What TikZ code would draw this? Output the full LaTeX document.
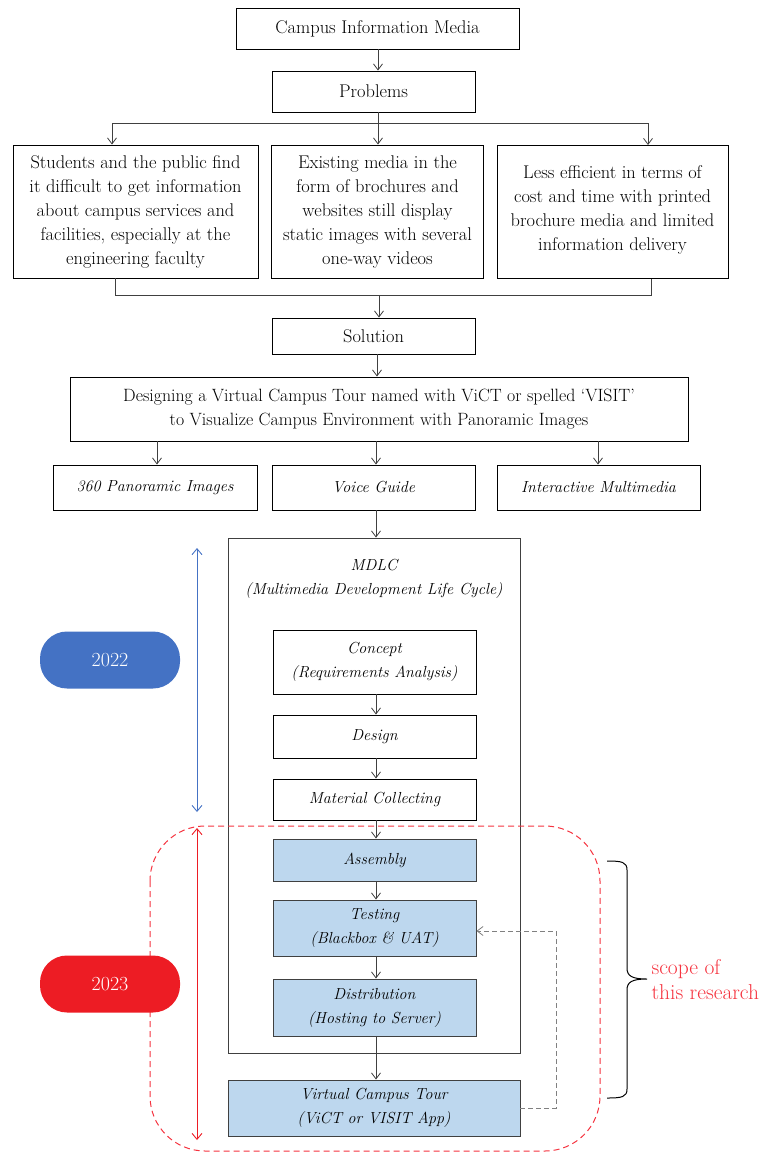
\documentclass[tikz,border=0pt]{standalone}
\usetikzlibrary{arrows.meta,calc}
\definecolor{pillblue}{HTML}{4472C4}
\definecolor{pillred}{HTML}{ED1C24}
\definecolor{boxblue}{HTML}{BDD7EE}
\definecolor{scopered}{HTML}{F5333F}
\definecolor{lineg}{HTML}{404040}
\begin{document}
\begin{tikzpicture}[x=1pt,y=-1pt,
  txt/.style={font=\fontsize{18.4}{24}\selectfont},
  box/.style={draw=black, line width=0.9pt, align=center, inner sep=2pt, txt},
  itbox/.style={box, font=\fontsize{16}{24}\selectfont\itshape},
  bluebox/.style={itbox, fill=boxblue, draw=lineg},
  arr/.style={draw=lineg, line width=0.8pt, -{Straight Barb[length=6pt,width=9pt]}},
  ln/.style={draw=lineg, line width=0.8pt},
  pill/.style={rounded corners=27pt, minimum width=140pt, minimum height=57pt, text=white, font=\fontsize{20}{22}\selectfont},
  dbl/.style={line width=0.9pt, {Straight Barb[length=6pt,width=10pt]}-{Straight Barb[length=6pt,width=10pt]}}
]
\useasboundingbox (0,0) rectangle (766,1154);

% top
\node[box, minimum width=283pt, minimum height=41pt] (cim) at (377.5,28.5) {Campus Information Media};
\node[box, minimum width=203pt, minimum height=41pt] (prob) at (373.5,91.5) {Problems};

\node[box, minimum width=245pt, minimum height=133pt] (p1) at (135.5,211.5) {Students and the public find\\it difficult to get information\\about campus services and\\facilities, especially at the\\engineering faculty};
\node[box, minimum width=212pt, minimum height=133pt] (p2) at (377.5,211.5) {Existing media in the\\form of brochures and\\websites still display\\static images with several\\one-way videos};
\node[box, minimum width=231pt, minimum height=133pt, anchor=north] (p3) at (612.5,145) {\\[-16pt]Less efficient in terms of\\cost and time with printed\\brochure media and limited\\information delivery};

\draw[arr] (cim.south -| 378,0) -- (prob.north -| 378,0);
\coordinate (bl) at (112,123);
\coordinate (br) at (648,123);
\draw[ln] (bl) -- (br);
\draw[arr] (bl) -- (bl |- p1.north);
\draw[arr] (br) -- (br |- p3.north);
\draw[arr] (prob.south -| 378,0) -- (p2.north -| 378,0);

\node[box, minimum width=203pt, minimum height=36pt] (sol) at (373.5,336) {Solution};
\coordinate (ml) at (115,295);
\coordinate (mr) at (651,295);
\coordinate (mc) at (379,295);
\draw[ln] (ml |- p1.south) -- (ml) -- (mr) -- (mr |- p3.south);
\draw[arr] (mc) -- (mc |- sol.north);

\node[box, minimum width=618pt, minimum height=64pt, font=\fontsize{17.8}{24}\selectfont] (des) at (379,409) {Designing a Virtual Campus Tour named with ViCT or spelled `VISIT'\\to Visualize Campus Environment with Panoramic Images};
\draw[arr] (sol.south -| 377,0) -- (des.north -| 377,0);

\node[itbox, minimum width=204pt, minimum height=45pt] (f1) at (155,487.5) {360 Panoramic Images};
\node[itbox, minimum width=203pt, minimum height=45pt] (f2) at (373.5,487.5) {Voice Guide};
\node[itbox, minimum width=203pt, minimum height=45pt] (f3) at (598.5,487.5) {Interactive Multimedia};
\draw[arr] (des.south -| 157,0) -- (f1.north -| 157,0);
\draw[arr] (des.south -| 376,0) -- (f2.north -| 376,0);
\draw[arr] (des.south -| 598,0) -- (f3.north -| 598,0);

% MDLC
\node[draw=lineg, line width=0.9pt, minimum width=292pt, minimum height=515pt] (mdlc) at (374,795.5) {};
\node[font=\fontsize{16}{24}\selectfont\itshape, align=center] (mdlct) at (374,579) {MDLC\\(Multimedia Development Life Cycle)};
\draw[arr] (f2.south -| 376,0) -- (mdlc.north -| 376,0);

\node[itbox, minimum width=203pt, minimum height=64pt] (con) at (374.5,662) {Concept\\(Requirements Analysis)};
\node[itbox, minimum width=203pt, minimum height=43pt] (dsg) at (374.5,736.5) {Design};
\node[itbox, minimum width=203pt, minimum height=41pt] (mat) at (374.5,799.5) {Material Collecting};
\node[bluebox, minimum width=203pt, minimum height=42pt] (asm) at (374.5,860) {Assembly};
\node[bluebox, minimum width=203pt, minimum height=56pt] (tst) at (374.5,928) {Testing\\(Blackbox \& UAT)};
\node[bluebox, minimum width=203pt, minimum height=57pt] (dst) at (374.5,1007.5) {Distribution\\(Hosting to Server)};
\node[bluebox, minimum width=292pt, minimum height=56pt] (vct) at (374,1108) {Virtual Campus Tour\\(ViCT or VISIT App)};

\draw[arr] (con.south -| 376,0) -- (dsg.north -| 376,0);
\draw[arr] (dsg.south -| 376,0) -- (mat.north -| 376,0);
\draw[arr] (mat.south -| 376,0) -- (asm.north -| 376,0);
\draw[arr] (asm.south -| 376,0) -- (tst.north -| 376,0);
\draw[arr] (tst.south -| 376,0) -- (dst.north -| 376,0);
\draw[arr] (dst.south -| 376,0) -- (vct.north -| 376,0);

% feedback
\coordinate (fb1) at (556,1108);
\coordinate (fb2) at (556,931);
\draw[draw=gray, line width=0.8pt, dash pattern=on 5pt off 3pt, -{Straight Barb[length=6pt,width=9pt]}] (vct.east |- fb1) -- (fb1) -- (fb2) -- (tst.east |- fb2);

% scope region
\draw[scopered, line width=1pt, dash pattern=on 6pt off 4pt, rounded corners=55pt] (150,826) rectangle (600,1151);

% years
\node[pill, fill=pillblue] (y22) at (110,660) {2022};
\node[pill, fill=pillred] (y23) at (110,984) {2023};
\coordinate (b1) at (197,548);
\coordinate (b2) at (197,812);
\coordinate (r1) at (197,828);
\coordinate (r2) at (197,1140);
\draw[dbl, draw=pillblue] (b1) -- (b2);
\draw[dbl, draw=pillred] (r1) -- (r2);

% brace
\coordinate (brt) at (607,861);
\coordinate (brb) at (607,1098);
\draw[line width=1pt] (brt) .. controls (622,861) and (627,862) .. (627,870)
  -- (627,968) .. controls (627,976) and (632,979) .. (647,979)
  .. controls (632,979) and (627,982) .. (627,990)
  -- (627,1089) .. controls (627,1097) and (622,1098) .. (brb);
\node[anchor=west, text=scopered, align=left, font=\fontsize{21.5}{25}\selectfont] (scope) at (648,980) {scope of\\this research};
\end{tikzpicture}
\end{document}
